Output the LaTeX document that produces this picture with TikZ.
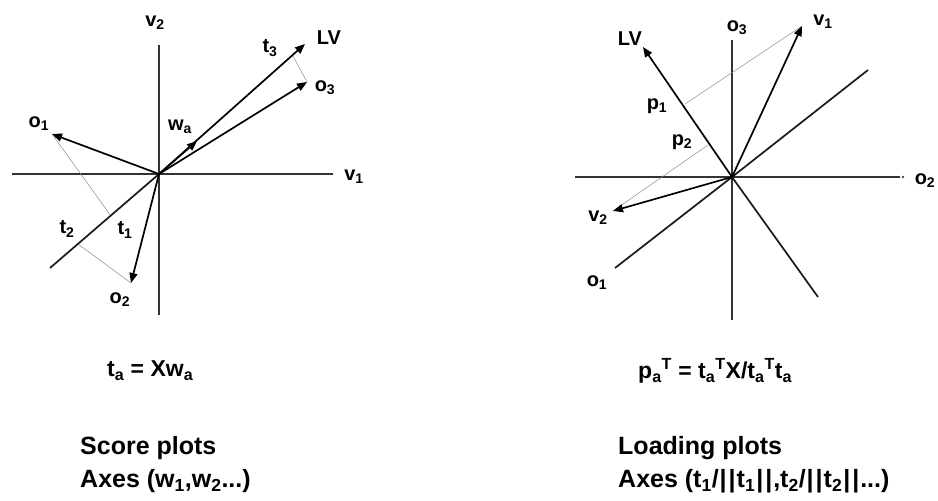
\documentclass[tikz,border=0pt]{standalone}
\usepackage{fontspec}
\setmainfont{Liberation Sans}
\usetikzlibrary{arrows.meta,calc}

\newcommand{\lo}[1]{\textsubscript{#1}}
\newcommand{\hi}[1]{\textsuperscript{#1}}
\newcommand{\nbar}{\kern1pt|\kern1pt}

\tikzset{
 lbl/.style={font=\bfseries\fontsize{20}{22}\selectfont,inner sep=0pt},
 eqn/.style={font=\bfseries\fontsize{23}{25}\selectfont,inner sep=0pt,anchor=west},
 ttl/.style={font=\bfseries\fontsize{25}{27}\selectfont,inner sep=0pt,anchor=west},
 axisline/.style={line width=1.4pt,black!80},
 vec/.style={line width=1.7pt,-{Triangle[length=10pt,width=8pt]}},
 bare/.style={line width=1.7pt,black!90},
 proj/.style={line width=0.5pt,black!45},
}

\begin{document}
\begin{tikzpicture}[x=1pt,y=-1pt]
 \useasboundingbox (0,0) rectangle (938,501);

 % score plot
 \coordinate (sO) at (159,174);
 \coordinate (sW) at (12,174);
 \coordinate (sE) at (333,174);
 \coordinate (sN) at (159,45);
 \coordinate (sS) at (159,315);
 \coordinate (sLV) at (305,44);
 \coordinate (sLVback) at (50,268);
 \coordinate (so1) at (52,134);
 \coordinate (so2) at (131,283);
 \coordinate (so3) at (307,82);
 \coordinate (swa) at (197,141);
 \coordinate (st1) at (111,216);
 \coordinate (st2) at (78,244);
 \coordinate (st3) at (293,56);
 \draw[axisline] (sW) -- (sE);
 \draw[axisline] (sN) -- (sS);
 \draw[proj] (so1) -- (st1);
 \draw[proj] (so2) -- (st2);
 \draw[proj] (so3) -- (st3);
 \draw[bare] (sO) -- (sLVback);
 \draw[vec] (sO) -- (sLV);
 \draw[vec] (sO) -- (so3);
 \draw[vec] (sO) -- (swa);
 \draw[vec] (sO) -- (so1);
 \draw[vec] (sO) -- (so2);
 \node[lbl] (sv2) at (155,23) {v\lo{2}};
 \node[lbl] (sv1) at (354,177) {v\lo{1}};
 \node[lbl] (sLVl) at (329,38) {LV};
 \node[lbl] (st3l) at (270,48) {t\lo{3}};
 \node[lbl] (so3l) at (325,88) {o\lo{3}};
 \node[lbl] (swal) at (180,127) {w\lo{a}};
 \node[lbl] (so1l) at (39,124) {o\lo{1}};
 \node[lbl] (st2l) at (67,229) {t\lo{2}};
 \node[lbl] (st1l) at (125,230) {t\lo{1}};
 \node[lbl] (so2l) at (120,300) {o\lo{2}};
 \node[eqn] (teq) at (107,371) {t\lo{a} = Xw\lo{a}};
 \node[ttl] (stitle) at (80,448) {Score plots};
 \node[ttl] (saxes) at (80,481) {Axes (w\lo{1},w\lo{2}...)};

 % loading plot
 \coordinate (lO) at (732,177);
 \coordinate (lW) at (575,177);
 \coordinate (lE) at (900,177);
 \coordinate (lN) at (732,40);
 \coordinate (lS) at (732,320);
 \coordinate (lLV) at (643,47);
 \coordinate (lv1) at (802,26);
 \coordinate (lv2) at (613,211);
 \coordinate (lNE) at (868,70);
 \coordinate (lSE) at (818,297);
 \coordinate (lSW) at (615,268);
 \coordinate (lp1) at (685,104);
 \coordinate (lp2) at (708,145);
 \draw[axisline] (lW) -- (lE);
 \fill[black!70] (903,177) circle (1.3);
 \draw[axisline] (lN) -- (lS);
 \draw[proj] (lv1) -- (lp1);
 \draw[proj] (lv2) -- (lp2);
 \draw[bare] (lO) -- (lNE);
 \draw[bare] (lO) -- (lSE);
 \draw[bare] (lO) -- (lSW);
 \draw[vec] (lO) -- (lLV);
 \draw[vec] (lO) -- (lv1);
 \draw[vec] (lO) -- (lv2);
 \node[lbl] (lo3l) at (737,28) {o\lo{3}};
 \node[lbl] (lLVl) at (630,39) {LV};
 \node[lbl] (lv1l) at (823,22) {v\lo{1}};
 \node[lbl] (lo2l) at (925,181) {o\lo{2}};
 \node[lbl] (lp1l) at (657,106) {p\lo{1}};
 \node[lbl] (lp2l) at (682,142) {p\lo{2}};
 \node[lbl] (lv2l) at (598,218) {v\lo{2}};
 \node[lbl] (lo1l) at (597,283) {o\lo{1}};
 \node[eqn] (peq) at (638,371) {p\lo{a}\hi{T} = t\lo{a}\hi{T}X/t\lo{a}\hi{T}t\lo{a}};
 \node[ttl] (ltitle) at (618,448) {Loading plots};
 \node[ttl] (laxes) at (618,481) {Axes (t\lo{1}/\nbar\nbar t\lo{1}\nbar\nbar,t\lo{2}/\nbar\nbar t\lo{2}\nbar\nbar...)};
\end{tikzpicture}
\end{document}
